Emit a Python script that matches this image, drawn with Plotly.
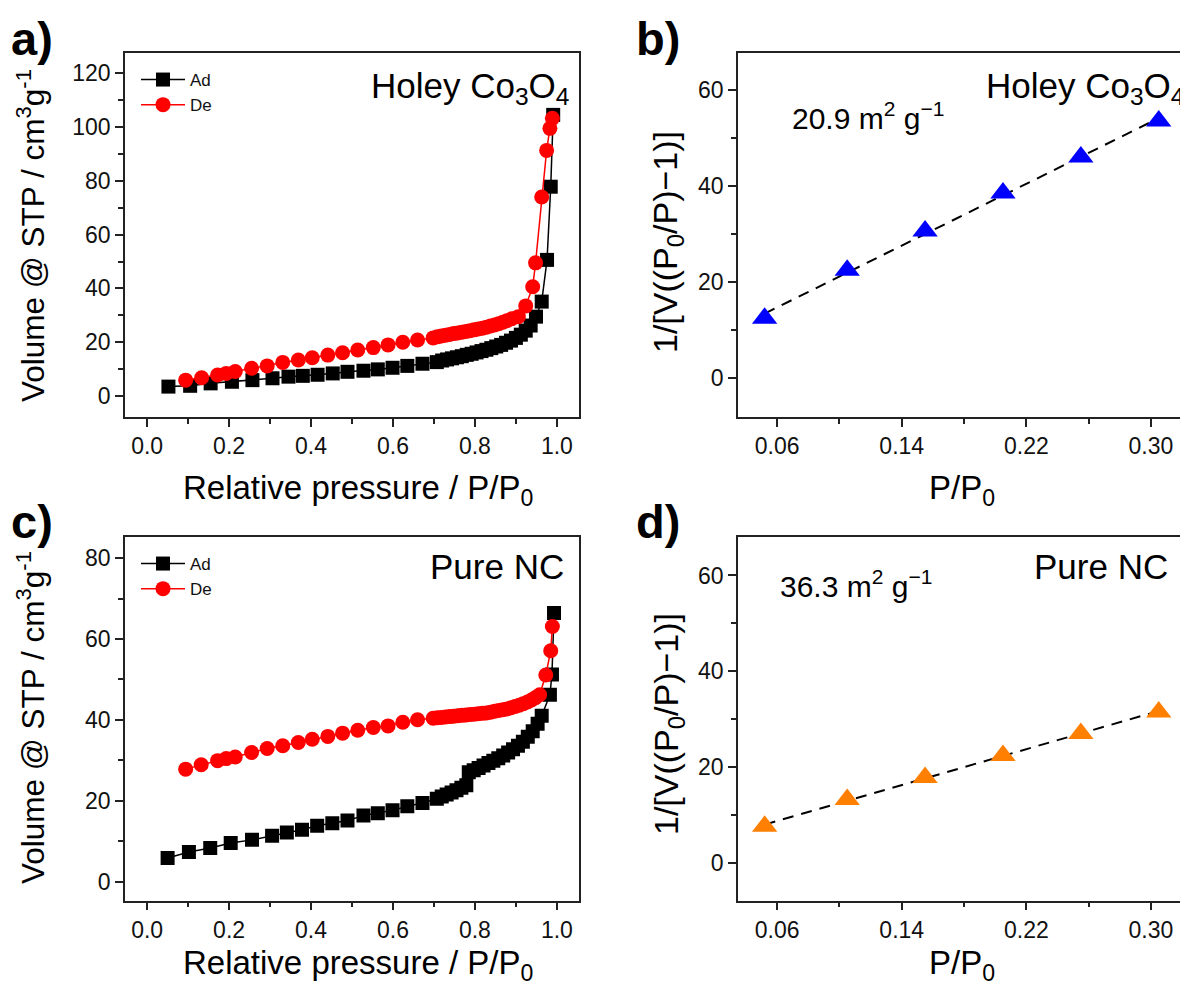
import numpy as np
import plotly.graph_objects as go

# ---------------- data ----------------
# a) Holey Co3O4 isotherm
ad_a_x = [0.052, 0.105, 0.155, 0.207, 0.257, 0.306, 0.345, 0.380, 0.416, 0.453,
          0.489, 0.528, 0.563, 0.599, 0.635, 0.672, 0.707, 0.720, 0.732, 0.744,
          0.756, 0.768, 0.780, 0.792, 0.804, 0.816, 0.828, 0.840, 0.852, 0.864,
          0.876, 0.888, 0.900, 0.912, 0.924, 0.936, 0.949, 0.963, 0.976, 0.985, 0.991]
ad_a_y = [3.5, 3.8, 4.7, 5.3, 5.9, 6.6, 7.2, 7.5, 7.9, 8.4,
          9.0, 9.4, 9.9, 10.5, 11.2, 12.0, 12.6, 13.2, 13.6, 14.0,
          14.4, 14.8, 15.3, 15.7, 16.2, 16.7, 17.2, 17.8, 18.4, 19.0,
          19.8, 20.6, 21.6, 22.8, 24.3, 26.2, 29.5, 35.1, 50.6, 77.8, 104.5]
de_a_x = [0.094, 0.133, 0.172, 0.193, 0.215, 0.255, 0.293, 0.331, 0.369, 0.403,
          0.441, 0.477, 0.514, 0.552, 0.588, 0.624, 0.660, 0.698,
          0.708, 0.718, 0.728, 0.738, 0.748, 0.758, 0.768, 0.778, 0.788, 0.798,
          0.808, 0.818, 0.828, 0.838, 0.848, 0.858, 0.868, 0.878,
          0.890, 0.906, 0.924, 0.941, 0.948, 0.963, 0.975, 0.983, 0.989]
de_a_y = [5.9, 6.8, 7.8, 8.4, 9.1, 10.3, 11.2, 12.5, 13.4, 14.2,
          15.2, 16.1, 17.1, 18.0, 19.0, 20.0, 20.8, 21.6,
          22.0, 22.3, 22.6, 22.9, 23.2, 23.4, 23.7, 24.0, 24.3, 24.6,
          24.9, 25.2, 25.6, 26.0, 26.4, 26.9, 27.4, 28.0,
          28.7, 29.5, 33.5, 40.6, 49.5, 74.0, 91.3, 99.5, 103.2]

# c) Pure NC isotherm
ad_c_x = [0.050, 0.102, 0.154, 0.204, 0.256, 0.305, 0.341, 0.378, 0.415, 0.452,
          0.489, 0.528, 0.563, 0.599, 0.635, 0.672, 0.707,
          0.719, 0.731, 0.743, 0.755, 0.767, 0.779,
          0.785, 0.797, 0.809, 0.821, 0.833, 0.845, 0.857, 0.869, 0.881, 0.893,
          0.905, 0.917, 0.929, 0.941,
          0.953, 0.963, 0.983, 0.988, 0.993]
ad_c_y = [5.8, 7.3, 8.3, 9.5, 10.3, 11.3, 12.1, 12.8, 13.8, 14.4,
          15.1, 16.3, 16.9, 17.6, 18.6, 19.4, 20.5,
          21.0, 21.5, 22.0, 22.6, 23.2, 23.8,
          27.0, 27.5, 28.1, 28.7, 29.3, 29.9, 30.5, 31.2, 31.9, 32.7,
          33.6, 34.6, 35.8, 37.2,
          39.0, 41.0, 46.2, 51.2, 66.4]
de_c_x = [0.094, 0.132, 0.172, 0.193, 0.215, 0.255, 0.293, 0.331, 0.369, 0.403,
          0.441, 0.477, 0.514, 0.552, 0.588, 0.624, 0.660, 0.698,
          0.708, 0.718, 0.728, 0.738, 0.748, 0.758, 0.768, 0.778, 0.788, 0.798,
          0.808, 0.818, 0.828, 0.838, 0.848, 0.858, 0.868, 0.878, 0.888, 0.898,
          0.908, 0.918, 0.928, 0.938,
          0.948, 0.958, 0.973, 0.985, 0.989]
de_c_y = [27.8, 28.9, 29.9, 30.4, 30.8, 31.9, 32.9, 33.6, 34.4, 35.2,
          35.9, 36.7, 37.4, 38.1, 38.5, 39.4, 40.0, 40.4,
          40.5, 40.6, 40.7, 40.8, 40.9, 41.0, 41.1, 41.2, 41.3, 41.4,
          41.5, 41.6, 41.7, 41.9, 42.1, 42.3, 42.5, 42.7, 43.0, 43.3,
          43.6, 44.0, 44.4, 44.9,
          45.5, 46.2, 51.1, 57.1, 63.1]

# b), d) BET plots
bet_x = [0.052, 0.105, 0.155, 0.205, 0.255, 0.305]
bet_b_y = [12.5, 22.5, 30.7, 38.6, 46.1, 53.6]
bet_d_y = [7.6, 13.2, 17.8, 22.4, 27.0, 31.5]

# ---------------- figure ----------------
PAGE_W, PAGE_H = 1188, 988
PAD = 8                      # default page margin before the plot div
W, H = PAGE_W - PAD, PAGE_H - PAD
FONT = "Liberation Sans, Arial, sans-serif"
AX = "#222222"


def fx(p):
    return (p - PAD) / W


def fy(p):
    return 1 - (p - PAD) / H


fig = go.Figure()

iso_sets = [
    (ad_a_x, ad_a_y, de_a_x, de_a_y, "x", "y", "legend"),
    (ad_c_x, ad_c_y, de_c_x, de_c_y, "x3", "y3", "legend2"),
]
for axx, ayy, dxx, dyy, xa, ya, lg in iso_sets:
    fig.add_trace(go.Scatter(x=axx, y=ayy, mode="lines+markers", name="Ad",
                             line=dict(color="black", width=1.5),
                             marker=dict(symbol="square", size=14, color="black"),
                             xaxis=xa, yaxis=ya, legend=lg))
    fig.add_trace(go.Scatter(x=dxx, y=dyy, mode="lines+markers", name="De",
                             line=dict(color="#FF0000", width=1.5),
                             marker=dict(symbol="circle", size=15, color="#FF0000"),
                             xaxis=xa, yaxis=ya, legend=lg))

for yy, col, xa, ya in [(bet_b_y, "#0000FF", "x2", "y2"), (bet_d_y, "#FF7F00", "x4", "y4")]:
    k, c0 = np.polyfit(bet_x, yy, 1)
    xl = [bet_x[0], bet_x[-1]]
    fig.add_trace(go.Scatter(x=xl, y=[k * v + c0 for v in xl], mode="lines",
                             line=dict(color="black", width=2, dash="11px,8px"),
                             xaxis=xa, yaxis=ya, showlegend=False))
    fig.add_trace(go.Scatter(x=bet_x, y=yy, mode="markers",
                             marker=dict(symbol="triangle-up", size=22, color=col),
                             xaxis=xa, yaxis=ya, showlegend=False))


def axis_style(**kw):
    d = dict(showline=True, mirror=True, linecolor=AX, linewidth=1.5,
             ticks="outside", ticklen=8, tickwidth=1.5, tickcolor=AX,
             showgrid=False, zeroline=False,
             tickfont=dict(family=FONT, size=23, color="#111111"))
    d.update(kw)
    return d


minor_x1 = dict(dtick=0.1, ticks="outside", ticklen=5, tickwidth=1.5, tickcolor=AX)
minor_x2 = dict(dtick=0.04, ticks="outside", ticklen=5, tickwidth=1.5, tickcolor=AX)
minor_y = dict(dtick=10, ticks="outside", ticklen=5, tickwidth=1.5, tickcolor=AX)

left_dom = [fx(125), fx(579)]
right_dom = [fx(738), fx(1186)]
top_dom = [fy(417), fy(53)]
bot_dom = [fy(900.5), fy(536.7)]

fig.update_layout(
    width=W, height=H, autosize=False,
    margin=dict(l=0, r=0, t=0, b=0),
    paper_bgcolor="white", plot_bgcolor="white",
    font=dict(family=FONT, color="#111111"),
    xaxis=axis_style(domain=left_dom, anchor="y", range=[-0.054, 1.054], tick0=0, dtick=0.2,
                     tickformat=".1f", minor=minor_x1),
    yaxis=axis_style(domain=top_dom, anchor="x", range=[-7.8, 127.5], tick0=0, dtick=20,
                     minor=minor_y),
    xaxis2=axis_style(domain=right_dom, anchor="y2", range=[0.0349, 0.3225], tick0=0.06,
                      dtick=0.08, tickformat=".2f", minor=dict(minor_x2, tick0=0.06)),
    yaxis2=axis_style(domain=top_dom, anchor="x2", range=[-8.1, 67.8], tick0=0, dtick=20,
                      minor=minor_y),
    xaxis3=axis_style(domain=left_dom, anchor="y3", range=[-0.054, 1.054], tick0=0, dtick=0.2,
                      tickformat=".1f", minor=minor_x1),
    yaxis3=axis_style(domain=bot_dom, anchor="x3", range=[-4.7, 85.3], tick0=0, dtick=20,
                      minor=minor_y),
    xaxis4=axis_style(domain=right_dom, anchor="y4", range=[0.0349, 0.3225], tick0=0.06,
                      dtick=0.08, tickformat=".2f", minor=dict(minor_x2, tick0=0.06)),
    yaxis4=axis_style(domain=bot_dom, anchor="x4", range=[-7.9, 68.1], tick0=0, dtick=20,
                      minor=minor_y),
    legend=dict(x=fx(136), y=fy(62), xanchor="left", yanchor="top",
                font=dict(family=FONT, size=17, color="#111111"),
                bgcolor="rgba(0,0,0,0)", tracegroupgap=0, itemwidth=44),
    legend2=dict(x=fx(136), y=fy(546), xanchor="left", yanchor="top",
                 font=dict(family=FONT, size=17, color="#111111"),
                 bgcolor="rgba(0,0,0,0)", tracegroupgap=0, itemwidth=44),
)


def ann(text, x, y, size, xanchor="center", yanchor="middle", angle=0, bold=False):
    fig.add_annotation(text=("<b>%s</b>" % text) if bold else text,
                       x=fx(x), y=fy(y), xref="paper", yref="paper",
                       xanchor=xanchor, yanchor=yanchor, textangle=angle,
                       showarrow=False,
                       font=dict(family=FONT, size=size, color="#000000"))


# panel letters
ann("a)", 9, 38, 47, xanchor="left", bold=True)
ann("b)", 634, 38, 47, xanchor="left", bold=True)
ann("c)", 9, 521, 47, xanchor="left", bold=True)
ann("d)", 634, 521, 47, xanchor="left", bold=True)

# sample names
ann("Holey Co<sub>3</sub>O<sub>4</sub>", 571, 88, 35, xanchor="right")
ann("Holey Co<sub>3</sub>O<sub>4</sub>", 1186, 88, 35, xanchor="right")
ann("Pure NC", 566, 566, 35, xanchor="right")
ann("Pure NC", 1170, 566, 35, xanchor="right")

# BET surface areas
ann("20.9 m<sup>2</sup> g<sup>\u22121</sup>", 790, 116, 30, xanchor="left")
ann("36.3 m<sup>2</sup> g<sup>\u22121</sup>", 778, 584, 30, xanchor="left")

# axis titles
ann("Volume @ STP / cm<sup>3</sup>g<sup>-1</sup>", 31, 236, 31.5, angle=-90)
ann("Volume @ STP / cm<sup>3</sup>g<sup>-1</sup>", 31, 718, 31.5, angle=-90)
ann("1/[V((P<sub>0</sub>/P)\u22121)]", 668, 242, 34, angle=-90)
ann("1/[V((P<sub>0</sub>/P)\u22121)]", 668, 724, 34, angle=-90)
ann("Relative pressure / P/P<sub>0</sub>", 358, 490, 33)
ann("P/P<sub>0</sub>", 962, 490, 33)
ann("Relative pressure / P/P<sub>0</sub>", 358, 965, 33)
ann("P/P<sub>0</sub>", 962, 965, 33)

fig.write_html("out.html")
